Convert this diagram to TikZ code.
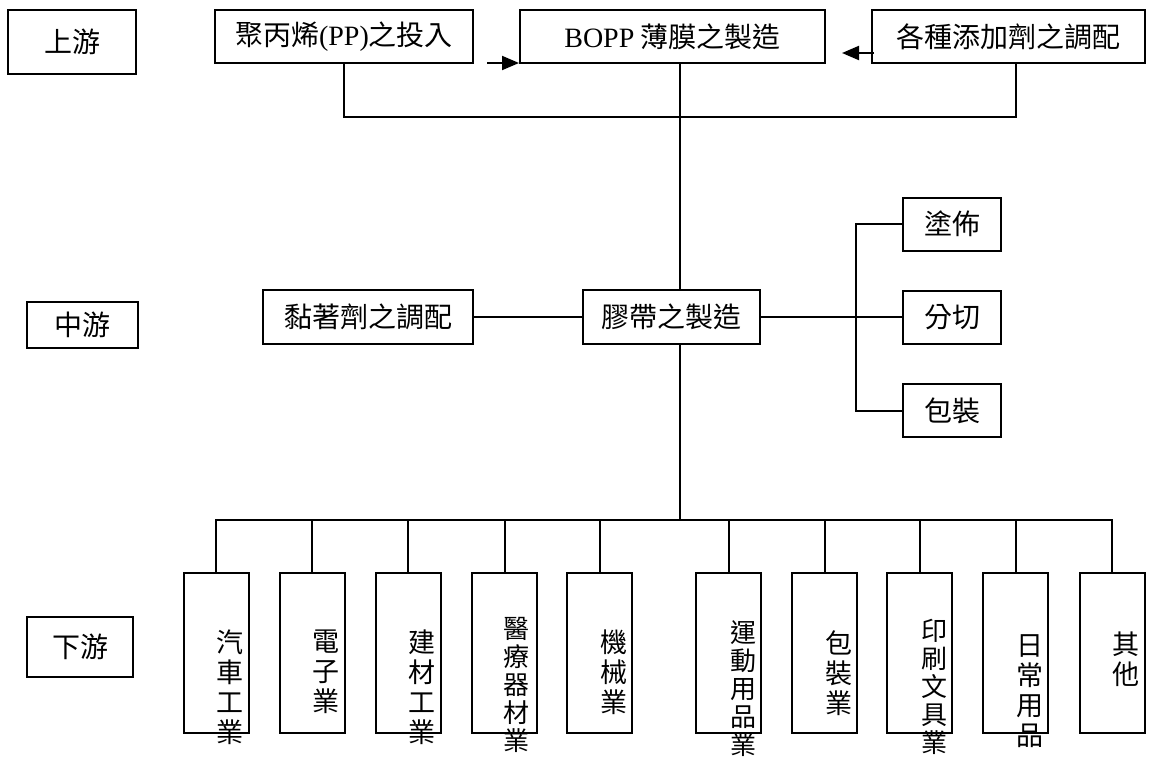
\documentclass[tikz,border=0pt]{standalone}
\usepackage{fontspec}
\setmainfont{Noto Sans CJK TC}
\newfontfamily\lat{Liberation Serif}
\usetikzlibrary{arrows.meta}
\begin{document}
\begin{tikzpicture}[x=1pt,y=-1pt,
	box/.style={draw,line width=2pt,inner sep=0pt,font=\fontsize{28}{30}\selectfont},
	topbox/.style={box,minimum height=53pt},
	sidebox/.style={box,minimum width=98pt,minimum height=53pt},
	vbox/.style={draw,line width=2pt,minimum width=65pt,minimum height=160pt},
	vtext/.style={anchor=north,align=center,inner sep=0pt,font=\fontsize{27}{30}\selectfont},
	vlong/.style={vtext,font=\fontsize{26}{28}\selectfont},
	link/.style={line width=2pt},
	tip/.style={link,-{Triangle[length=17pt,width=14pt]}}]
	\useasboundingbox (0,0) rectangle (1151,763);
	\node[box,minimum width=128pt,minimum height=64pt] (up) at (72,42) {上游};
	\node[topbox,minimum width=258pt] (pp) at (344,36.5) {聚丙烯{\lat (PP)}之投入};
	\node[topbox,minimum width=305pt] (bopp) at (672.5,36.5) {{\lat BOPP} 薄膜之製造};
	\node[topbox,minimum width=273pt] (add) at (1008.5,36.5) {各種添加劑之調配};
	\node[box,minimum width=111pt,minimum height=46pt] (mid) at (82.5,325) {中游};
	\node[box,minimum width=210pt,minimum height=54pt] (glue) at (368,317) {黏著劑之調配};
	\node[box,minimum width=177pt,minimum height=54pt] (tape) at (671.5,317) {膠帶之製造};
	\node[sidebox] (coat) at (952,224) {塗佈};
	\node[sidebox] (slit) at (952,317) {分切};
	\node[sidebox] (pack) at (952,410.5) {包裝};
	\node[box,minimum width=106pt,minimum height=60pt] (down) at (80,647) {下游};
	\node[vbox] (b1) at (216,653) {};
	\node[vbox] (b2) at (312,653) {};
	\node[vbox] (b3) at (408,653) {};
	\node[vbox] (b4) at (504.5,653) {};
	\node[vbox] (b5) at (599.5,653) {};
	\node[vbox] (b6) at (728.5,653) {};
	\node[vbox] (b7) at (824.5,653) {};
	\node[vbox] (b8) at (919.5,653) {};
	\node[vbox] (b9) at (1015.5,653) {};
	\node[vbox] (b10) at (1112,653) {};
	\node[vtext] (t1) at ([xshift=14pt,yshift=-58pt]b1.north) {汽\\車\\工\\業};
	\node[vtext] (t2) at ([xshift=14pt,yshift=-58pt]b2.north) {電\\子\\業};
	\node[vtext] (t3) at ([xshift=14pt,yshift=-58pt]b3.north) {建\\材\\工\\業};
	\node[vlong] (t4) at ([xshift=12pt,yshift=-45pt]b4.north) {醫\\療\\器\\材\\業};
	\node[vtext] (t5) at ([xshift=14pt,yshift=-58pt]b5.north) {機\\械\\業};
	\node[vlong] (t6) at ([xshift=15pt,yshift=-48pt]b6.north) {運\\動\\用\\品\\業};
	\node[vtext] (t7) at ([xshift=14pt,yshift=-58pt]b7.north) {包\\裝\\業};
	\node[vlong] (t8) at ([xshift=15pt,yshift=-47pt]b8.north) {印\\刷\\文\\具\\業};
	\node[vtext] (t9) at ([xshift=14pt,yshift=-62pt]b9.north) {日\\常\\用\\品};
	\node[vtext] (t10) at ([xshift=14pt,yshift=-60pt]b10.north) {其\\他};
	\coordinate (jtop) at (680,117);
	\coordinate (jr) at (856,317);
	\coordinate (jbot) at (680,520);
	\draw[link] (pp.south) |- (jtop);
	\draw[link] ([xshift=7.5pt]add.south) |- (jtop);
	\draw[link] (bopp.south -| jtop) -- (tape.north -| jtop);
	\draw[tip] ([xshift=-32pt,yshift=1pt]bopp.south west) -- ([yshift=1pt]bopp.south west);
	\draw[tip] ([xshift=3pt,yshift=-16.5pt]add.west) -- ([xshift=-29pt,yshift=-16.5pt]add.west);
	\draw[link] (glue.east) -- (tape.west);
	\draw[link] (tape.east) -- (slit.west);
	\draw[link] (coat.west) -| (jr) |- (pack.west);
	\draw[link] (tape.south -| jbot) -- (jbot);
	\draw[link] (b1.north) |- (jbot) -| (b10.north);
	\draw[link] (b2.north) -- (b2.north |- jbot) (b3.north) -- (b3.north |- jbot) (b4.north) -- (b4.north |- jbot) (b5.north) -- (b5.north |- jbot);
	\draw[link] (b6.north) -- (b6.north |- jbot) (b7.north) -- (b7.north |- jbot) (b8.north) -- (b8.north |- jbot) (b9.north) -- (b9.north |- jbot);
\end{tikzpicture}
\end{document}
